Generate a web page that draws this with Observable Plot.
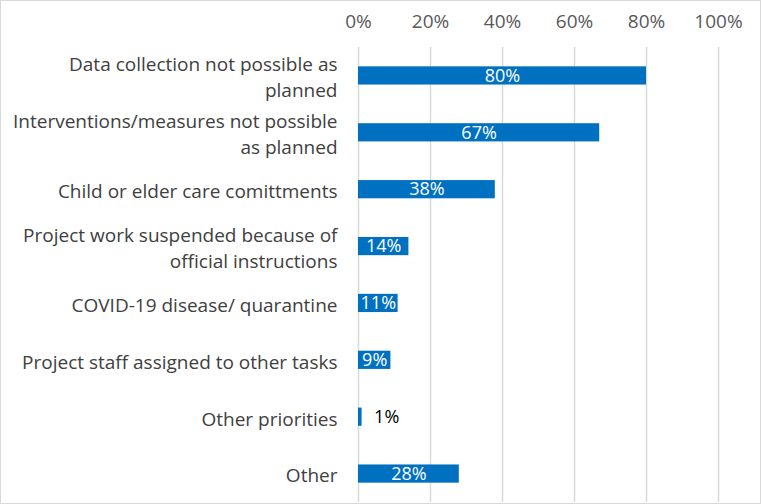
<!DOCTYPE html>
<html><head><meta charset="utf-8">
<script src="https://cdn.jsdelivr.net/npm/d3@7"></script>
<script src="https://cdn.jsdelivr.net/npm/@observablehq/plot@0.6"></script>
<style>
body{margin:0;background:#fff;}
#wrap{position:relative;width:761px;height:504px;}
#border{position:absolute;left:0;top:0;width:761px;height:504px;box-sizing:border-box;border:1px solid #d9d9d9;pointer-events:none;}
</style></head>
<body><div id="wrap"><div id="border"></div></div>
<script>
const categories = [
  "Data collection not possible as\nplanned",
  "Interventions/measures not possible\nas planned",
  "Child or elder care comittments",
  "Project work suspended because of\nofficial instructions",
  "COVID-19 disease/ quarantine",
  "Project staff assigned to other tasks",
  "Other priorities",
  "Other"
];
const values = [80, 67, 38, 14, 11, 9, 1, 28];
const ticks = [0, 20, 40, 60, 80, 100];

const data = categories.map((c, i) => ({cat: c, v: values[i]}));
const font = "'Open Sans', sans-serif";

const chart = Plot.plot({
  width: 761, height: 504,
  marginLeft: 358, marginRight: 43, marginTop: 47, marginBottom: 2,
  style: {fontFamily: font, background: "transparent"},
  x: {domain: [0, 100], ticks: ticks, tickFormat: d => d + "%", label: null},
  y: {domain: categories, paddingInner: 0.68, paddingOuter: 0.34, round: false, axis: null, label: null},
  marks: [
    Plot.gridX(ticks, {stroke: "#d9d9d9", strokeOpacity: 1, strokeWidth: 1.5}),
    Plot.axisX({anchor: "top", ticks: ticks, tickFormat: d => d + "%", tickSize: 0, tickPadding: 20, fontSize: 19, fill: "#595959", fontFamily: font, label: null}),
    Plot.barX(data, {x: "v", y: "cat", fill: "#0070C0"}),
    Plot.text(data, {x: 0, y: "cat", text: "cat", textAnchor: "end", dx: -21, fontSize: 19, fill: "#404040", lineHeight: 1.37, fontFamily: font}),
    Plot.text(data.filter(d => d.v >= 5), {x: d => d.v / 2, y: "cat", text: d => d.v + "%", fill: "white", fontSize: 18, fontFamily: font}),
    Plot.text(data.filter(d => d.v < 5), {x: "v", y: "cat", text: d => d.v + "%", fill: "black", fontSize: 18, textAnchor: "start", dx: 12, fontFamily: font})
  ]
});
document.getElementById("wrap").prepend(chart);
</script></body></html>
